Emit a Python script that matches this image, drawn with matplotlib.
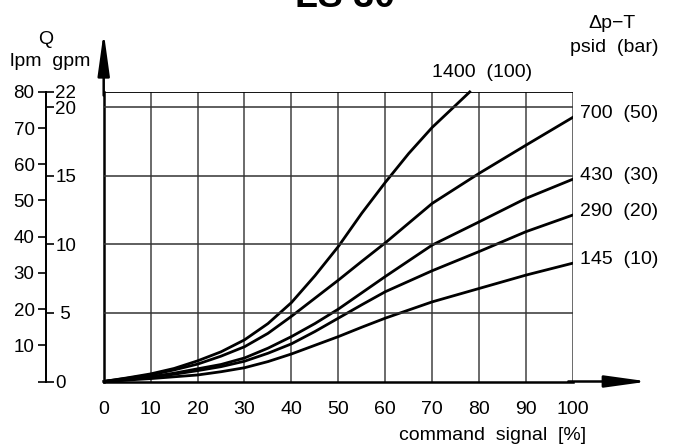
import matplotlib
matplotlib.use('Agg')
import matplotlib.pyplot as plt
from matplotlib import font_manager

# ---------------- data ----------------
signal_pct = [0, 5, 10, 15, 20, 25, 30, 35, 40, 45, 50, 55, 60, 70, 80, 90, 100]
q_700_psid = [0, 0.9, 1.8, 3.2, 4.8, 7.0, 9.6, 13.3, 18.0, 23.0, 28.0, 33.2, 38.3, 49.2, 57.5, 65.3, 73.0]
q_430_psid = [0, 0.6, 1.3, 2.3, 3.5, 4.7, 6.5, 9.2, 12.4, 16.0, 20.0, 24.5, 29.0, 37.7, 44.1, 50.6, 55.9]
q_290_psid = [0, 0.5, 1.2, 2.0, 3.0, 4.1, 5.6, 7.8, 10.4, 13.8, 17.5, 21.2, 24.8, 30.6, 35.9, 41.4, 46.0]
q_145_psid = [0, 0.4, 0.8, 1.3, 1.8, 2.7, 3.8, 5.5, 7.6, 10.0, 12.4, 15.0, 17.5, 22.0, 25.7, 29.4, 32.7]

signal_1400 = [0, 5, 10, 15, 20, 25, 30, 35, 40, 45, 50, 55, 60, 65, 70, 74.5, 78]
q_1400_psid = [0, 1.0, 2.1, 3.6, 5.7, 8.2, 11.5, 16.0, 21.8, 29.2, 37.3, 46.5, 55.0, 63.0, 70.2, 75.7, 80.0]

curve_labels = ["1400  (100)", "700  (50)", "430  (30)", "290  (20)", "145  (10)"]

x_ticks = [0, 10, 20, 30, 40, 50, 60, 70, 80, 90, 100]
lpm_ticks = [0, 10, 20, 30, 40, 50, 60, 70, 80]
lpm_labels = ["", "10", "20", "30", "40", "50", "60", "70", "80"]
gpm_ticks = [0, 5, 10, 15, 20, 80 / 3.785]
gpm_labels = ["0", " 5", "10", "15", "20", "22"]
gpm_grid = [5, 10, 15, 20]
LPM_PER_GPM = 3.785

# ---------------- fonts ----------------
avail = {f.name for f in font_manager.fontManager.ttflist}
narrow = 'Liberation Sans Narrow' if 'Liberation Sans Narrow' in avail else 'Liberation Sans'
plt.rcParams['font.family'] = [narrow, 'DejaVu Sans']

W, H = 674, 447
fig = plt.figure(figsize=(W / 100, H / 100), dpi=100)
x0, x1 = 103.7, 573.0
y0, y1 = 381.5, 91.9
ax = fig.add_axes([x0 / W, (H - y0) / H, (x1 - x0) / W, (y0 - y1) / H])
ax.set_xlim(0, 100)
ax.set_ylim(0, 80)

for s in ['top', 'right']:
    ax.spines[s].set_visible(False)
for s in ['left', 'bottom']:
    ax.spines[s].set_linewidth(1.8)
    ax.spines[s].set_color('black')

ax.set_xticks(x_ticks)
ax.set_xticklabels([str(t) for t in x_ticks], fontsize=14)
ax.tick_params(axis='x', length=0, pad=14)
ax.set_yticks([])

# grid
for xt in x_ticks[1:]:
    ax.axvline(xt, color='#6a6a6a', lw=1.4, zorder=1)
ax.axhline(80, color='black', lw=1.3, zorder=1)
axg = ax.twinx()
axg.set_ylim(0, 80 / LPM_PER_GPM)
axg.set_yticks([])
for s in axg.spines.values():
    s.set_visible(False)
for g in gpm_grid:
    axg.axhline(g, color='#333333', lw=1.1, zorder=1)

# curves
lw = 2.0
ax.plot(signal_1400, q_1400_psid, color='black', lw=lw, zorder=3, clip_on=False,
        solid_joinstyle='round')
for q in [q_700_psid, q_430_psid, q_290_psid, q_145_psid]:
    ax.plot(signal_pct, q, color='black', lw=lw, zorder=3, solid_joinstyle='round')

# curve labels
ax.text(70.0, 85.4, curve_labels[0], fontsize=14, ha='left', va='center', clip_on=False)
for lab, q in zip(curve_labels[1:], [q_700_psid, q_430_psid, q_290_psid, q_145_psid]):
    ax.text(101.5, q[-1] + 1.0, lab, fontsize=14, ha='left', va='center', clip_on=False)

# axis arrows
arrow = dict(arrowstyle='-|>,head_length=1.3,head_width=0.18', color='black', lw=1.8,
             mutation_scale=20, shrinkA=0, shrinkB=0)
ax.annotate('', xy=(0, 96.5), xytext=(0, 79), arrowprops=arrow, annotation_clip=False)
ax.annotate('', xy=(116.0, 0), xytext=(99, 0), arrowprops=arrow, annotation_clip=False)

# left double scale
loc = -58.0 / (x1 - x0)
sec_l = ax.secondary_yaxis(loc)
sec_l.set_yticks(lpm_ticks)
sec_l.set_yticklabels(lpm_labels, fontsize=13.5)
sec_l.tick_params(length=6, width=1.2, pad=2)
sec_l.spines['left'].set_linewidth(1.3)

sec_r = ax.secondary_yaxis(loc, functions=(lambda v: v / LPM_PER_GPM, lambda v: v * LPM_PER_GPM))
sec_r.set_alignment('right')
sec_r.set_yticks(gpm_ticks)
sec_r.set_yticklabels(gpm_labels, fontsize=13.5)
sec_r.tick_params(length=6, width=1.2, pad=1)
for lab in sec_r.get_yticklabels():
    lab.set_horizontalalignment('left')
sec_r.spines['right'].set_linewidth(1.3)

# axis titles
fig.text(46 / W, 1 - 40 / H, 'Q', fontsize=14, ha='center', va='center')
fig.text(50 / W, 1 - 62 / H, 'lpm  gpm', fontsize=14, ha='center', va='center')
fig.text(612 / W, 1 - 24 / H, 'Δp−T', fontsize=14, ha='center', va='center')
fig.text(614 / W, 1 - 48 / H, 'psid  (bar)', fontsize=14, ha='center', va='center')
fig.text(493 / W, 1 - 436 / H, 'command  signal  [%]', fontsize=14, ha='center', va='center')

# title (cut off at the top edge in the reference)
fig.text(345 / W, 1 - 7 / H, 'LS 30', fontsize=27, fontweight='bold', family='Liberation Sans',
         ha='center', va='baseline')

fig.savefig('out.png', dpi=100)
